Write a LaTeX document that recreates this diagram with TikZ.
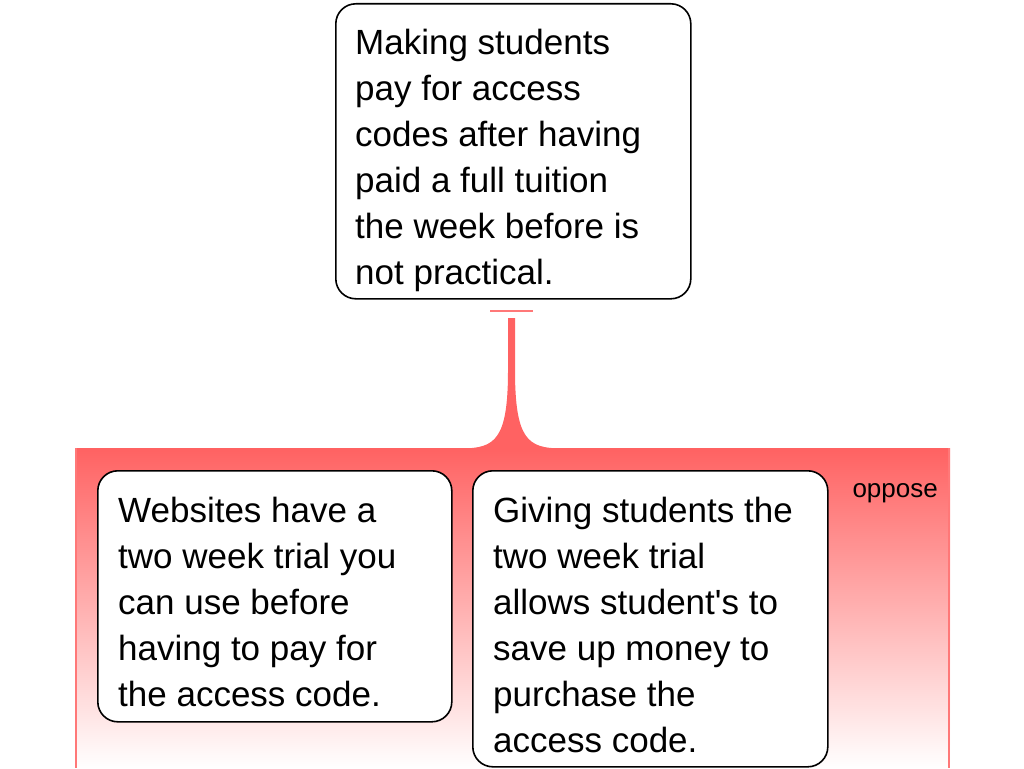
\documentclass[tikz,border=0pt]{standalone}
\usepackage{fontspec}
\setmainfont{Liberation Sans}[Ligatures=TeXOff]
\definecolor{opred}{RGB}{255,98,98}
\definecolor{opedge}{RGB}{255,120,120}
\tikzset{
  argbox/.style={draw=black, line width=1.6pt, rounded corners=20pt, fill=white, inner sep=0pt},
  argtext/.style={anchor=base west, inner sep=0pt, align=left, font=\fontsize{35}{46}\selectfont},
  grouppanel/.style={inner sep=0pt, top color=opred, bottom color=white, shading angle=0},
  sideline/.style={draw=opedge, line width=2pt},
}
\begin{document}
\begin{tikzpicture}[x=1pt,y=-1pt]
\useasboundingbox (0,0) rectangle (1024,768);
% group panel
\node[grouppanel, minimum width=875pt, minimum height=320pt, anchor=north west] (group) at (75,448) {};
\draw[sideline] ([xshift=1pt]group.north west) -- ([xshift=1pt]group.south west);
\draw[sideline] ([xshift=-1pt]group.north east) -- ([xshift=-1pt]group.south east);
\node[anchor=base east, inner sep=0pt, font=\fontsize{26}{30}\selectfont] (oppose) at (938,497) {oppose};
% claim box
\node[argbox, minimum width=355pt, minimum height=295pt, anchor=north west] (claim) at (335,3) {};
\node[argtext] (claimtext) at (355,284) {Making students\\pay for access\\codes after having\\paid a full tuition\\the week before is\\not practical.};
% premises
\node[argbox, minimum width=354pt, minimum height=251pt, anchor=north west] (p1) at (97,470) {};
\node[argtext] (p1text) at (118,706) {Websites have a\\two week trial you\\can use before\\having to pay for\\the access code.};
\node[argbox, minimum width=355pt, minimum height=296pt, anchor=north west] (p2) at (472,470) {};
\node[argtext] (p2text) at (493,752) {Giving students the\\two week trial\\allows student's to\\save up money to\\purchase the\\access code.};
% connector
\coordinate (stemtop) at (511.5,318);
\coordinate (bar) at (511.5,311);
\fill[opred] ([xshift=-3.5pt]stemtop) -- ([xshift=-3.5pt]stemtop |- 0,370)
  .. controls (508,440) and (495,448) .. (462,448.5) -- (561,448.5)
  .. controls (528,448) and (515,440) .. ([xshift=3.5pt]stemtop |- 0,370)
  -- ([xshift=3.5pt]stemtop) -- cycle;
\draw[opedge, line width=2pt] ([xshift=-21.5pt]bar) -- ([xshift=21.5pt]bar);
\end{tikzpicture}
\end{document}
